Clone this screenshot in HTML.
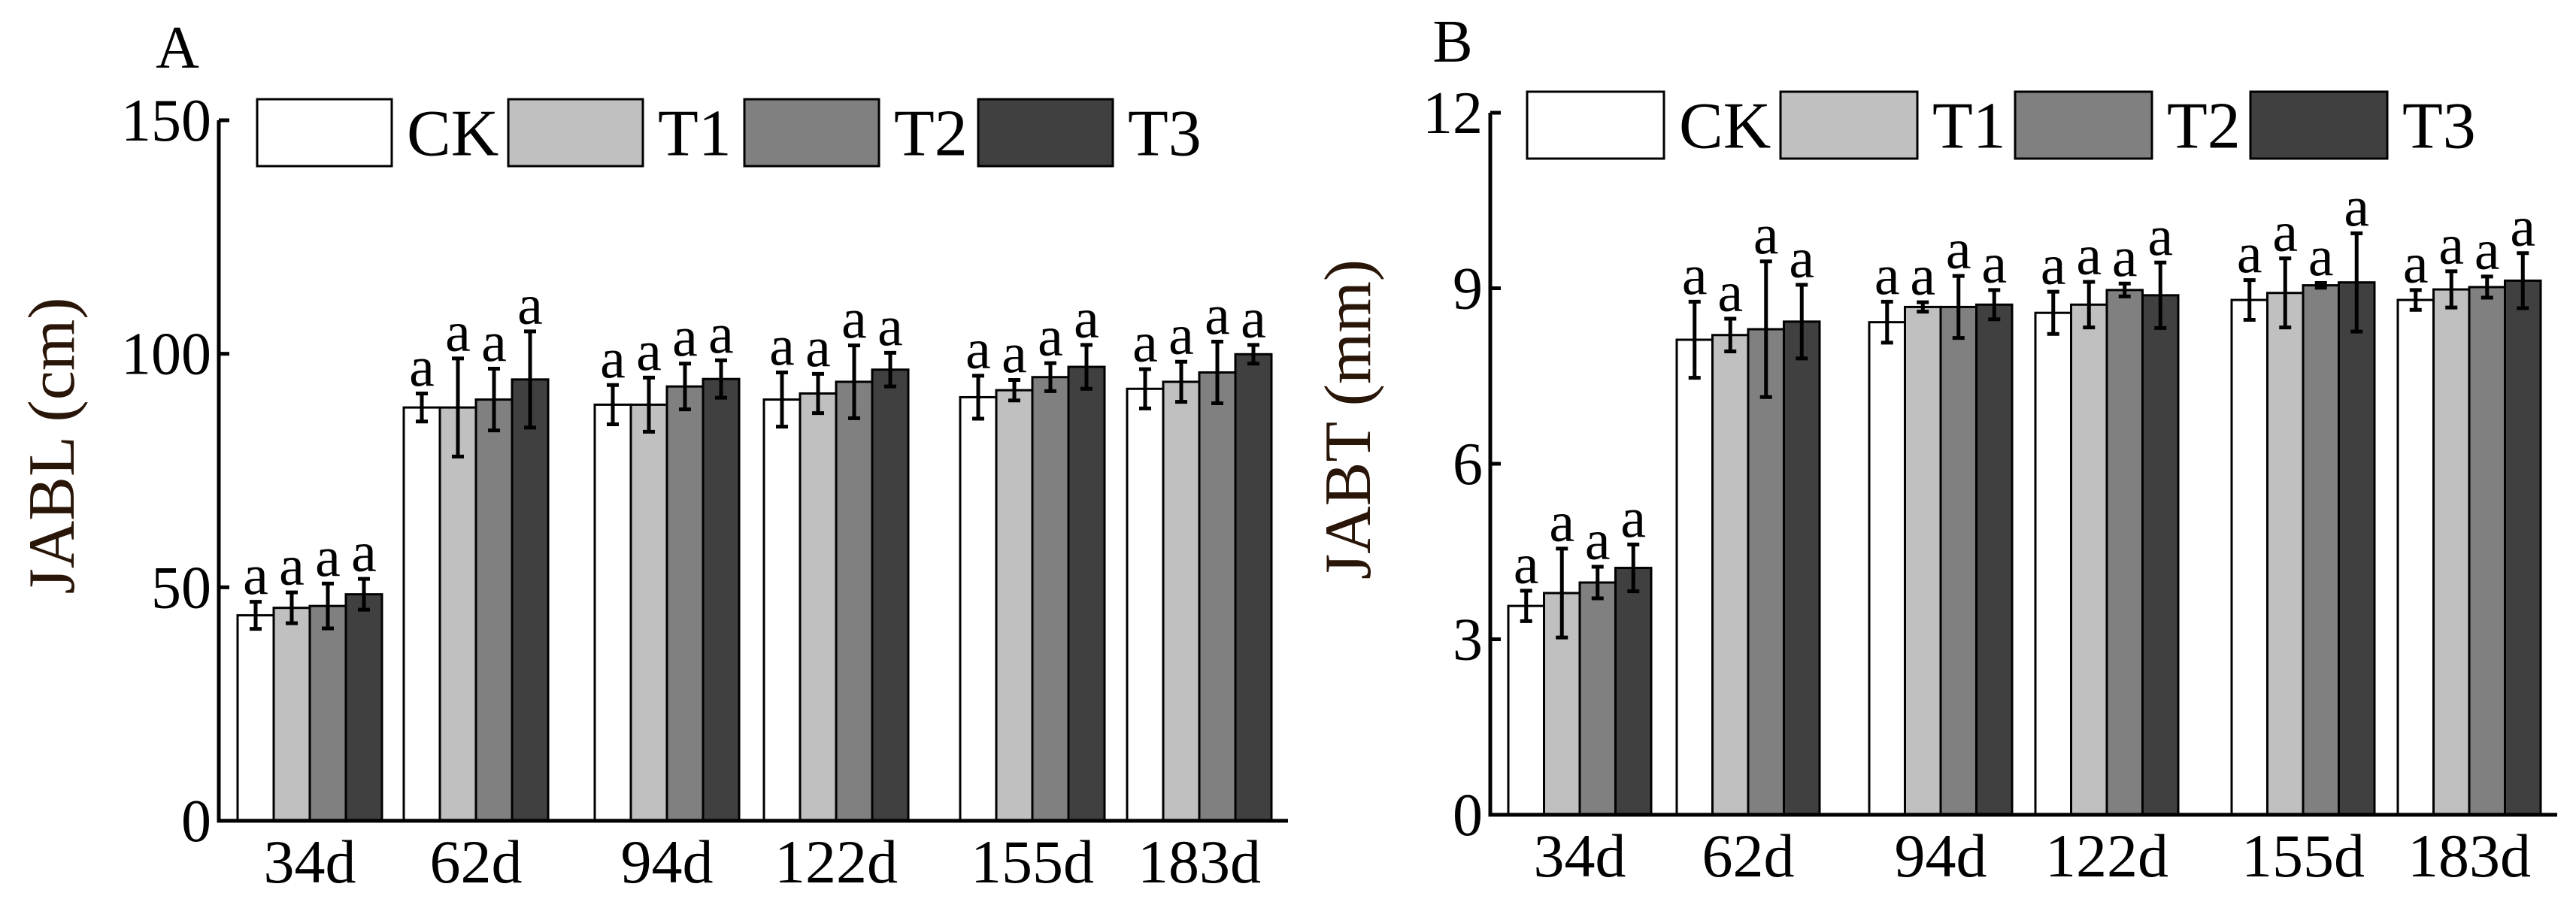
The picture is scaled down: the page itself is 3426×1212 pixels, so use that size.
<!DOCTYPE html>
<html><head><meta charset="utf-8"><style>
html,body{margin:0;padding:0;background:#fff}
svg{display:block}
text{font-family:"Liberation Serif",serif;fill:#000}
</style></head><body>
<svg id="chart" width="3426" height="1212" viewBox="0 0 3426 1212" xmlns="http://www.w3.org/2000/svg"></svg>
<script>
const categories = ["34d","62d","94d","122d","155d","183d"];
const seriesNames = ["CK","T1","T2","T3"];
const jablCK = [44,88.5,89.1,90.2,90.7,92.5];
const jablT1 = [45.6,88.5,89.1,91.5,92.2,94];
const jablT2 = [46,90.2,93,94,95,96];
const jablT3 = [48.5,94.5,94.6,96.6,97.2,99.9];
const jablErrCK = [2.9,3,4.2,5.8,4.6,4.2];
const jablErrT1 = [3.3,10.5,5.8,4.2,2.2,4.3];
const jablErrT2 = [4.8,6.6,4.9,7.8,3,6.6];
const jablErrT3 = [3.3,10.3,4,3.6,4.7,2];
const jabtCK = [3.57,8.12,8.42,8.58,8.8,8.8];
const jabtT1 = [3.79,8.2,8.68,8.72,8.92,8.98];
const jabtT2 = [3.97,8.3,8.68,8.97,9.05,9.02];
const jabtT3 = [4.22,8.43,8.72,8.88,9.1,9.13];
const jabtErrCK = [0.26,0.65,0.35,0.36,0.34,0.17];
const jabtErrT1 = [0.76,0.28,0.08,0.39,0.59,0.31];
const jabtErrT2 = [0.27,1.16,0.53,0.11,0.04,0.18];
const jabtErrT3 = [0.4,0.63,0.25,0.56,0.84,0.47];
const jablTicks = [0,50,100,150];
const jabtTicks = [0,3,6,9,12];
const sigLetters = ["a","a","a","a"];

const fills = ["#ffffff","#c0c0c0","#808080","#404040"];
const svg = document.getElementById('chart');
const NS = "http://www.w3.org/2000/svg";
function mk(tag, attrs, parent){
  const e = document.createElementNS(NS, tag);
  for (const k in attrs) e.setAttribute(k, attrs[k]);
  (parent||svg).appendChild(e);
  return e;
}

function panel(cfg){
  const g = mk('g', {});
  
  
  const y = v => cfg.y0 + (cfg.y1 - cfg.y0) * (v / cfg.max);
  const bw = cfg.bw;
  // bars
  for (let c = 0; c < categories.length; c++) {
    for (let s = 0; s < 4; s++) {
      const v = cfg.vals[s][c], e = cfg.errs[s][c];
      const x = cfg.groupX[c] + s * bw;
      const r = mk('rect', {x:x, y:y(v), width:bw, height:cfg.y0 - y(v), fill:fills[s], stroke:'#000', 'stroke-width':3}, g);
      
      
      const cx = x + bw/2;
      const eb = mk('path', {d:`M${cx},${y(v+e)}V${y(v-e)}M${cx-8},${y(v+e)}H${cx+8}M${cx-8},${y(v-e)}H${cx+8}`, stroke:'#000', 'stroke-width':5, fill:'none'}, g);
      
      
      const t = mk('text', {x:cx, y:y(v+e) - 10, 'font-size':76, 'text-anchor':'middle'}, g);
      t.textContent = sigLetters[s];
      
      
    }
    const xl = mk('text', {x:cfg.groupX[c] + 2*bw, y:cfg.y0 + 82, 'font-size':82, 'text-anchor':'middle'}, g);
    xl.textContent = categories[c];
    
    
  }
  // axes
  const ax = mk('path', {d:`M${cfg.ax},${cfg.y1}V${cfg.y0}H${cfg.axEnd}`, stroke:'#000', 'stroke-width':5, fill:'none'}, g);
  
  
  cfg.ticks.forEach(tv => {
    const tk = mk('line', {x1:cfg.ax, x2:cfg.ax+14, y1:y(tv), y2:y(tv), stroke:'#000', 'stroke-width':5}, g);
    
    
    const tl = mk('text', {x:cfg.ax - 10, y:y(tv) + 27, 'font-size':80, 'text-anchor':'end'}, g);
    tl.textContent = tv;
    
    
  });
  const yt = mk('text', {x:0, y:0, 'font-size':88, 'text-anchor':'middle', transform:`translate(${cfg.ytx},${cfg.yty}) rotate(-90)`, style:'fill:#2a1608'}, g);
  yt.textContent = cfg.ytitle;
  
  
  const pl = mk('text', {x:cfg.labX, y:cfg.labY, 'font-size':80, 'text-anchor':'middle'}, g);
  pl.textContent = cfg.label;
  
  
  // legend
  for (let s = 0; s < 4; s++) {
    const lb = mk('rect', {x:cfg.legX[s], y:cfg.legY, width:cfg.legW, height:cfg.legH, fill:fills[s], stroke:'#000', 'stroke-width':3}, g);
    
    
    const lt = mk('text', {x:cfg.legX[s] + cfg.legW + 20, y:cfg.legY + cfg.legH/2 + 30, 'font-size':88}, g);
    lt.textContent = seriesNames[s];
    
    
  }
}

panel({name:'panel-a-jabl', vals:[jablCK,jablT1,jablT2,jablT3], errs:[jablErrCK,jablErrT1,jablErrT2,jablErrT3],
  max:150, ticks:jablTicks, y0:1092, y1:160, ax:291, axEnd:1713, bw:48,
  groupX:[316,537,791,1016,1277,1499], ytitle:'JABL (cm)', ytx:98, yty:593,
  label:'A', labX:236, labY:90, legX:[342,676,990,1301], legY:132, legW:179, legH:89});
panel({name:'panel-b-jabt', vals:[jabtCK,jabtT1,jabtT2,jabtT3], errs:[jabtErrCK,jabtErrT1,jabtErrT2,jabtErrT3],
  max:12, ticks:jabtTicks, y0:1084, y1:150, ax:1982, axEnd:3401, bw:47.5,
  groupX:[2006,2230,2486,2707,2968,3189], ytitle:'JABT (mm)', ytx:1822, yty:558,
  label:'B', labX:1932, labY:82, legX:[2031,2368,2680,2993], legY:122, legW:182, legH:89});
</script>
</body></html>
